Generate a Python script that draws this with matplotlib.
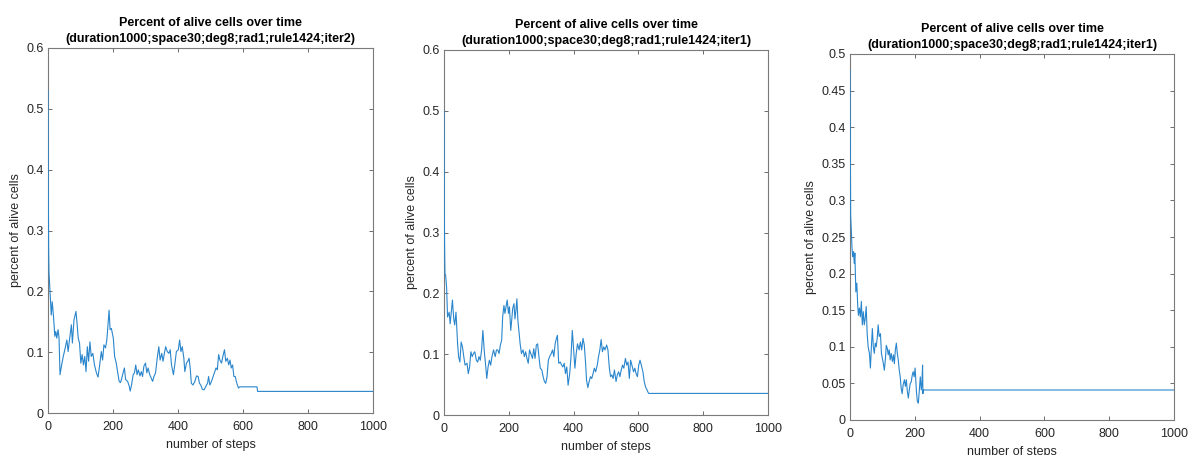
import matplotlib
matplotlib.use("Agg")
import matplotlib.pyplot as plt

plt.rcParams['font.family'] = ['Liberation Sans', 'DejaVu Sans']

# ---- data (step, fraction of alive cells) ----
steps_iter2a = [0, 1, 2, 3, 6, 10, 13, 17, 21, 24, 27, 31, 34, 37, 42, 47, 53, 58, 62, 66,
                72, 75, 80, 86, 89, 93, 97, 101, 105, 109, 113, 117, 121, 125, 129, 133,
                138, 143, 149, 154, 159, 164, 168, 172, 177, 181, 188, 191, 195, 198, 201,
                205, 210, 214, 219, 223, 227, 231, 235, 239, 245, 250, 253, 257, 262, 266,
                270, 274, 278, 283, 287, 291, 295, 300, 304, 308, 313, 318, 322, 326, 331,
                336, 341, 345, 350, 354, 358, 362, 367, 372, 376, 380, 386, 390, 395, 401,
                405, 409, 413, 418, 421, 426, 430, 434, 438, 441, 446, 452, 457, 462, 466,
                470, 475, 480, 486, 491, 494, 498, 503, 508, 512, 517, 521, 525, 529, 534,
                538, 543, 547, 552, 556, 560, 564, 568, 572, 576, 581, 586, 590, 643, 645,
                1000]
vals_iter2a = [0.53, 0.36, 0.27, 0.232, 0.202, 0.161, 0.183, 0.158, 0.126, 0.134, 0.123,
               0.137, 0.123, 0.063, 0.079, 0.093, 0.107, 0.120, 0.101, 0.120, 0.145, 0.115,
               0.153, 0.167, 0.150, 0.123, 0.115, 0.082, 0.096, 0.079, 0.093, 0.068, 0.109,
               0.085, 0.117, 0.093, 0.098, 0.079, 0.066, 0.059, 0.079, 0.101, 0.087, 0.112,
               0.107, 0.120, 0.169, 0.137, 0.139, 0.131, 0.123, 0.093, 0.082, 0.068, 0.052,
               0.050, 0.057, 0.066, 0.074, 0.055, 0.052, 0.044, 0.036, 0.046, 0.063, 0.066,
               0.079, 0.063, 0.071, 0.061, 0.068, 0.060, 0.077, 0.082, 0.066, 0.074, 0.063,
               0.057, 0.052, 0.060, 0.066, 0.090, 0.109, 0.087, 0.098, 0.085, 0.098, 0.109,
               0.101, 0.098, 0.104, 0.079, 0.063, 0.079, 0.101, 0.104, 0.120, 0.101, 0.109,
               0.090, 0.068, 0.082, 0.085, 0.090, 0.071, 0.049, 0.046, 0.052, 0.061, 0.060,
               0.049, 0.046, 0.039, 0.038, 0.044, 0.049, 0.060, 0.046, 0.052, 0.060, 0.066,
               0.074, 0.071, 0.096, 0.087, 0.082, 0.093, 0.104, 0.085, 0.090, 0.079, 0.087,
               0.074, 0.079, 0.060, 0.060, 0.049, 0.041, 0.043, 0.043, 0.0355, 0.0355]

steps_iter1a = [0, 1, 2, 3, 5, 8, 11, 16, 19, 23, 26, 30, 33, 37, 42, 45, 49, 53, 57, 61,
                65, 71, 75, 79, 83, 87, 91, 95, 100, 104, 108, 112, 116, 120, 124, 129, 132,
                136, 140, 144, 148, 153, 158, 162, 166, 170, 174, 178, 181, 185, 188, 192,
                195, 199, 202, 206, 209, 212, 216, 219, 222, 225, 228, 231, 235, 239, 244,
                248, 252, 256, 260, 264, 268, 273, 277, 281, 285, 289, 293, 297, 302, 306,
                310, 314, 318, 322, 326, 331, 335, 339, 343, 347, 350, 354, 359, 363, 367,
                371, 375, 379, 383, 388, 392, 396, 400, 404, 408, 412, 417, 421, 425, 429,
                433, 437, 440, 444, 448, 452, 456, 460, 464, 468, 473, 477, 481, 485, 489,
                493, 497, 502, 506, 510, 514, 518, 522, 526, 531, 535, 539, 543, 547, 551,
                555, 560, 564, 568, 572, 576, 580, 585, 589, 593, 597, 601, 605, 609, 614,
                618, 622, 626, 630, 632, 1000]
vals_iter1a = [0.50, 0.33, 0.27, 0.232, 0.230, 0.210, 0.161, 0.169, 0.150, 0.172, 0.189,
               0.158, 0.148, 0.169, 0.117, 0.096, 0.087, 0.120, 0.112, 0.096, 0.082, 0.085,
               0.068, 0.079, 0.104, 0.096, 0.101, 0.104, 0.090, 0.087, 0.096, 0.090, 0.107,
               0.139, 0.107, 0.079, 0.060, 0.079, 0.090, 0.082, 0.096, 0.107, 0.096, 0.107,
               0.107, 0.101, 0.115, 0.123, 0.161, 0.180, 0.167, 0.180, 0.189, 0.167, 0.178,
               0.139, 0.156, 0.175, 0.183, 0.158, 0.172, 0.191, 0.156, 0.139, 0.117, 0.101,
               0.107, 0.096, 0.104, 0.093, 0.085, 0.107, 0.101, 0.093, 0.109, 0.093, 0.115,
               0.117, 0.096, 0.077, 0.074, 0.063, 0.055, 0.052, 0.063, 0.090, 0.096, 0.101,
               0.107, 0.096, 0.117, 0.126, 0.131, 0.085, 0.087, 0.082, 0.079, 0.085, 0.068,
               0.079, 0.049, 0.068, 0.096, 0.139, 0.107, 0.077, 0.101, 0.117, 0.107, 0.120,
               0.107, 0.126, 0.115, 0.085, 0.057, 0.045, 0.055, 0.063, 0.060, 0.068, 0.077,
               0.071, 0.082, 0.096, 0.107, 0.124, 0.104, 0.112, 0.107, 0.115, 0.107, 0.079,
               0.063, 0.066, 0.060, 0.074, 0.055, 0.066, 0.071, 0.063, 0.074, 0.082, 0.077,
               0.093, 0.082, 0.087, 0.060, 0.090, 0.082, 0.071, 0.077, 0.068, 0.063, 0.082,
               0.090, 0.082, 0.071, 0.055, 0.046, 0.042, 0.037, 0.0355, 0.0355]

steps_iter1b = [0, 2, 4, 6, 8, 11, 13, 15, 18, 21, 24, 26, 29, 32, 35, 38, 41, 44, 47, 50,
                53, 56, 60, 63, 66, 69, 72, 75, 78, 81, 84, 87, 90, 94, 97, 100, 103, 106,
                109, 112, 115, 118, 121, 124, 127, 131, 134, 137, 140, 143, 146, 149, 152,
                155, 158, 161, 164, 168, 171, 174, 177, 180, 183, 186, 189, 192, 195, 198,
                201, 205, 208, 211, 214, 217, 220, 222, 224, 225, 226, 1000]
vals_iter1b = [0.478, 0.28, 0.260, 0.237, 0.223, 0.230, 0.214, 0.228, 0.175, 0.187, 0.155,
               0.143, 0.153, 0.141, 0.162, 0.130, 0.148, 0.130, 0.139, 0.155, 0.118, 0.100,
               0.091, 0.071, 0.100, 0.125, 0.100, 0.091, 0.105, 0.100, 0.112, 0.130, 0.114,
               0.118, 0.091, 0.084, 0.077, 0.068, 0.082, 0.102, 0.098, 0.089, 0.096, 0.082,
               0.091, 0.080, 0.089, 0.077, 0.096, 0.105, 0.091, 0.082, 0.068, 0.059, 0.043,
               0.036, 0.048, 0.055, 0.046, 0.055, 0.039, 0.030, 0.041, 0.050, 0.052, 0.061,
               0.066, 0.059, 0.071, 0.039, 0.025, 0.023, 0.041, 0.059, 0.041, 0.050, 0.075,
               0.036, 0.041, 0.041]

titles = ['Percent of alive cells over time\n(duration1000;space30;deg8;rad1;rule1424;iter2)',
          'Percent of alive cells over time\n(duration1000;space30;deg8;rad1;rule1424;iter1)',
          'Percent of alive cells over time\n(duration1000;space30;deg8;rad1;rule1424;iter1)']
x_ticks = [0, 200, 400, 600, 800, 1000]
y_ticks_a = [0, 0.1, 0.2, 0.3, 0.4, 0.5, 0.6]
y_labels_a = ['0', '0.1', '0.2', '0.3', '0.4', '0.5', '0.6']
y_ticks_b = [0, 0.05, 0.1, 0.15, 0.2, 0.25, 0.3, 0.35, 0.4, 0.45, 0.5]
y_labels_b = ['0', '0.05', '0.1', '0.15', '0.2', '0.25', '0.3', '0.35', '0.4', '0.45', '0.5']

W, H = 1189, 455
fig = plt.figure(figsize=(W / 100, H / 100), dpi=100)

# axes boxes in pixels: left, right, top, bottom
boxes = [(48, 373, 48, 413), (444, 768, 50, 415), (850, 1174, 54, 420)]
series = [(steps_iter2a, vals_iter2a), (steps_iter1a, vals_iter1a), (steps_iter1b, vals_iter1b)]
yspecs = [(0.6, y_ticks_a, y_labels_a), (0.6, y_ticks_a, y_labels_a), (0.5, y_ticks_b, y_labels_b)]

line_color = '#2a86cc'
txt = '#262626'
for i in range(3):
    l, r, t, b = boxes[i]
    ax = fig.add_axes([l / W, 1 - b / H, (r - l) / W, (b - t) / H])
    xs, ys = series[i]
    ax.plot(xs, ys, color=line_color, linewidth=0.8, zorder=3)
    ymax, yt, yl = yspecs[i]
    ax.set_xlim(0, 1000)
    ax.set_ylim(0, ymax)
    ax.set_xticks(x_ticks)
    ax.set_yticks(yt)
    ax.set_yticklabels(yl)
    ax.tick_params(direction='in', top=True, right=True, length=3, width=0.6,
                   colors='#555555', labelcolor=txt, labelsize=9)
    ax.tick_params(axis='x', pad=6)
    ax.tick_params(axis='y', pad=3)
    for s in ax.spines.values():
        s.set_color('#7a7a7a')
        s.set_linewidth(0.8)
    ax.set_title(titles[i], fontsize=9, fontweight='bold', color='black', pad=4,
                 linespacing=1.45)
    ax.set_xlabel('number of steps', fontsize=9, color=txt, labelpad=4)
    ax.set_ylabel('percent of alive cells', fontsize=9, color=txt, labelpad=3)

fig.savefig('out.png', dpi=100)
